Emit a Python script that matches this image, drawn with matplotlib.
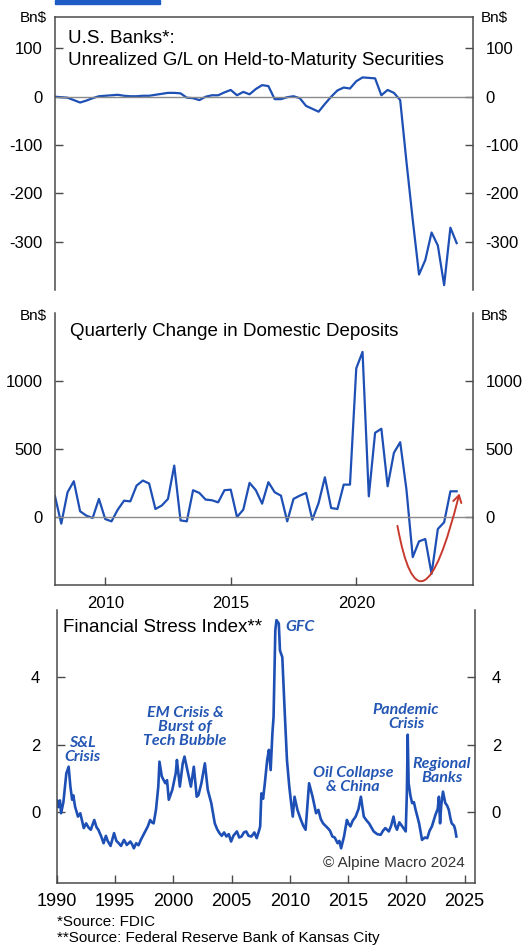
import matplotlib
matplotlib.use('Agg')
import matplotlib.pyplot as plt
import pandas as pd
from matplotlib.patches import Rectangle, FancyArrowPatch
from matplotlib.path import Path

plt.rcParams['font.family'] = ['Liberation Sans', 'DejaVu Sans']
plt.rcParams['axes.unicode_minus'] = False

W, H = 526, 946

# quarterly series, 2008Q1 .. 2024Q1
quarters = pd.period_range('2008Q1', '2024Q1', freq='Q')
qx = quarters.year + (quarters.quarter - 1) / 4

htm_gl = [0, -1, -2, -7, -12, -8, -3, 1, 2, 3, 4, 2, 1, 1, 2, 2,
          4, 6, 8, 8, 7, -2, -3, -7, 0, 3, 3, 9, 14, 3, 10, 5,
          16, 24, 22, -5, -5, -1, 1, -3, -19, -25, -31, -15, 0, 13, 19, 17,
          32, 40, 39, 38, 3, 14, 8, -7, -135, -255, -368, -338, -281, -308, -390, -271,
          -303]

deposit_chg = [152, -49, 182, 263, 42, 10, -7, 133, -15, -32, 54, 120, 115, 231, 268, 246,
               59, 84, 133, 378, -25, -32, 197, 177, 128, 123, 108, 197, 201, 0, 54, 251,
               197, 98, 256, 182, 157, -32, 133, 157, 177, -20, 103, 292, 66, 59, 238, 238,
               1093, 1214, 152, 619, 649, 226, 472, 550, 200, -295, -179, -162, -418, -88, -39, 189,
               189]

# Kansas City Financial Stress Index
fsi_dates = [1990.00, 1990.10, 1990.25, 1990.35, 1990.55, 1990.80, 1991.00, 1991.15, 1991.30, 1991.40,
             1991.55, 1991.80, 1992.00, 1992.15, 1992.30, 1992.50, 1992.70, 1992.90, 1993.20, 1993.40,
             1993.55, 1993.80, 1994.00, 1994.20, 1994.35, 1994.60, 1994.90, 1995.10, 1995.30, 1995.50,
             1995.75, 1996.00, 1996.30, 1996.45, 1996.60, 1996.80, 1997.00, 1997.20, 1997.50, 1997.80,
             1998.00, 1998.15, 1998.30, 1998.50, 1998.70, 1998.80, 1999.00, 1999.30, 1999.45, 1999.60,
             1999.90, 2000.20, 2000.30, 2000.55, 2000.80, 2000.95, 2001.20, 2001.50, 2001.75, 2002.00,
             2002.15, 2002.40, 2002.70, 2002.95, 2003.25, 2003.55, 2003.75, 2003.95, 2004.15, 2004.35,
             2004.55, 2004.75, 2004.95, 2005.15, 2005.45, 2005.65, 2005.85, 2006.05, 2006.25, 2006.45,
             2006.70, 2006.95, 2007.15, 2007.35, 2007.45, 2007.55, 2007.70, 2007.85, 2008.05, 2008.20,
             2008.35, 2008.50, 2008.60, 2008.75, 2008.85, 2009.05, 2009.15, 2009.35, 2009.55, 2009.75,
             2009.95, 2010.10, 2010.25, 2010.40, 2010.65, 2010.95, 2011.15, 2011.35, 2011.65, 2011.95,
             2012.25, 2012.45, 2012.65, 2012.85, 2013.05, 2013.25, 2013.45, 2013.65, 2013.85, 2014.10,
             2014.25, 2014.40, 2014.65, 2014.90, 2015.05, 2015.20, 2015.40, 2015.65, 2015.90, 2016.10,
             2016.35, 2016.60, 2016.80, 2017.00, 2017.20, 2017.50, 2017.80, 2018.00, 2018.20, 2018.50,
             2018.70, 2018.90, 2019.05, 2019.20, 2019.40, 2019.65, 2019.95, 2020.05, 2020.12, 2020.20,
             2020.35, 2020.50, 2020.65, 2020.80, 2021.10, 2021.35, 2021.60, 2021.80, 2022.00, 2022.20,
             2022.50, 2022.70, 2022.80, 2022.90, 2023.00, 2023.15, 2023.35, 2023.50, 2023.65, 2023.80,
             2023.90, 2024.10, 2024.20, 2024.30]
fsi_values = [0.35, 0.15, 0.35, -0.03, 0.30, 1.15, 1.35, 0.76, 0.37, 0.50,
              0.17, -0.13, -0.03, -0.25, -0.47, -0.33, -0.45, -0.52, -0.23, -0.45,
              -0.52, -0.72, -0.92, -0.70, -0.85, -1.00, -0.62, -0.85, -0.92, -1.00,
              -0.82, -0.97, -0.87, -0.95, -1.07, -0.92, -0.98, -0.82, -0.62, -0.42,
              -0.23, -0.30, -0.33, 0.07, 0.76, 1.50, 1.06, 0.86, 0.95, 0.37,
              0.66, 1.16, 1.55, 0.76, 1.45, 1.65, 1.25, 0.76, 1.35, 0.46,
              0.51, 0.86, 1.45, 0.66, 0.27, -0.33, -0.50, -0.62, -0.70, -0.60,
              -0.72, -0.65, -0.87, -0.70, -0.57, -0.75, -0.72, -0.60, -0.57, -0.70,
              -0.72, -0.60, -0.77, -0.55, -0.42, 0.56, 0.40, 0.86, 1.55, 1.85,
              1.25, 2.34, 2.83, 5.40, 5.70, 5.60, 4.80, 4.60, 3.03, 1.55,
              0.76, 0.30, -0.13, 0.46, 0.07, -0.23, -0.40, -0.52, 0.86, 0.46,
              -0.03, 0.07, -0.20, -0.33, -0.40, -0.47, -0.55, -0.72, -0.75, -0.92,
              -0.85, -1.07, -0.72, -0.23, -0.35, -0.42, -0.25, -0.13, 0.10, 0.46,
              -0.13, -0.25, -0.33, -0.45, -0.57, -0.65, -0.67, -0.55, -0.47, -0.57,
              -0.40, -0.13, -0.40, -0.52, -0.30, -0.42, -0.57, 0.60, 2.30, 0.86,
              0.50, 0.27, 0.30, 0.07, -0.33, -0.82, -0.75, -0.77, -0.55, -0.42,
              -0.08, 0.10, 0.46, -0.33, 0.20, 0.61, 0.27, 0.20, 0.07, -0.20,
              -0.33, -0.40, -0.52, -0.72]

events = ['S&L\nCrisis', 'EM Crisis &\nBurst of\nTech Bubble', 'GFC',
          'Oil Collapse\n& China', 'Pandemic\nCrisis', 'Regional\nBanks']

BLUE = '#1d4fb5'
TXT_BLUE = '#2456b3'
SPINE = '#4a4a4a'


def px(x, y):
    return x / W, 1 - y / H


def style_axis(ax, yticks, top=False, bottom=False):
    ax.spines['top'].set_visible(top)
    ax.spines['bottom'].set_visible(bottom)
    for s in ax.spines.values():
        s.set_color(SPINE)
        s.set_linewidth(1.1)
    ax.set_yticks(yticks)
    ax.tick_params(axis='y', direction='in', length=6, width=1, color=SPINE,
                   left=True, right=True, labelleft=True, labelright=True,
                   labelsize=12, pad=9)


fig = plt.figure(figsize=(W / 100, H / 100), dpi=100)

# top banner (cropped title bar)
fig.patches.append(Rectangle(px(55, 4), 105 / W, 4 / H, transform=fig.transFigure,
                             color='#1f5bc4', zorder=5))

# --- panel 1: unrealized G/L on HTM securities
ax1 = fig.add_axes([55 / W, 1 - 290 / H, 418 / W, 273 / H])
ax1.plot(qx, htm_gl, color=BLUE, lw=1.6)
ax1.axhline(0, color='#8a8a8a', lw=1)
ax1.set_xlim(2008.0, 2024.65)
ax1.set_ylim(-400, 165)
style_axis(ax1, [-300, -200, -100, 0, 100], top=True)
ax1.set_xticks([])
fig.text(*px(68, 43), 'U.S. Banks*:', fontsize=13.5)
fig.text(*px(68, 65), 'Unrealized G/L on Held-to-Maturity Securities', fontsize=13.5)
fig.text(*px(20, 22), 'Bn$', fontsize=11)
fig.text(*px(481, 22), 'Bn$', fontsize=11)

# --- panel 2: quarterly change in domestic deposits
ax2 = fig.add_axes([55 / W, 1 - 585 / H, 418 / W, 272 / H])
ax2.plot(qx, deposit_chg, color=BLUE, lw=1.6)
ax2.axhline(0, color='#8a8a8a', lw=1)
ax2.set_xlim(2008.0, 2024.65)
ax2.set_ylim(-500, 1500)
style_axis(ax2, [0, 500, 1000], bottom=True)
ax2.set_xticks([2010, 2015, 2020])
ax2.tick_params(axis='x', direction='in', length=6, width=1, color=SPINE,
                labelsize=12, pad=8)
fig.text(*px(70, 336), 'Quarterly Change in Domestic Deposits', fontsize=13.5)
fig.text(*px(20, 320), 'Bn$', fontsize=11)
fig.text(*px(481, 320), 'Bn$', fontsize=11)

# red U-turn arrow over the deposit trough
curve = Path([(2021.64, -65), (2022.55, -980), (2024.11, 173)],
             [Path.MOVETO, Path.CURVE3, Path.CURVE3])
ax2.add_patch(FancyArrowPatch(path=curve, arrowstyle='->,head_length=5,head_width=3',
                              color='#c83a2e', lw=1.4, zorder=4))

# --- panel 3: financial stress index
ax3 = fig.add_axes([57 / W, 1 - 883 / H, 418 / W, 273 / H])
ax3.plot(fsi_dates, fsi_values, color=BLUE, lw=1.9)
ax3.set_xlim(1990, 2025.9)
ax3.set_ylim(-2.1, 6.0)
style_axis(ax3, [0, 2, 4], bottom=True)
ax3.tick_params(axis='y', pad=12)
ax3.set_xticks(range(1990, 2026, 5))
ax3.tick_params(axis='x', direction='in', length=6, width=1, color=SPINE,
                labelsize=13, pad=7)
fig.text(*px(63, 632), 'Financial Stress Index**', fontsize=13.5)

ev_pos = [(82, 750), (185, 727), (300, 627), (353, 780), (406, 717), (442, 771)]
for label, (x, y) in zip(events, ev_pos):
    fig.text(*px(x, y), label, fontsize=11.5, color=TXT_BLUE, family='Lato',
             style='italic', weight='bold', ha='center', va='center', linespacing=1.0)

fig.text(*px(465, 867), '\u00a9 Alpine Macro 2024', fontsize=11, color='#333333', ha='right')

# footer
fig.text(*px(57, 926), '*Source: FDIC', fontsize=11)
fig.text(*px(57, 942), '**Source: Federal Reserve Bank of Kansas City', fontsize=11)

fig.savefig('out.png', dpi=100, facecolor='white')
